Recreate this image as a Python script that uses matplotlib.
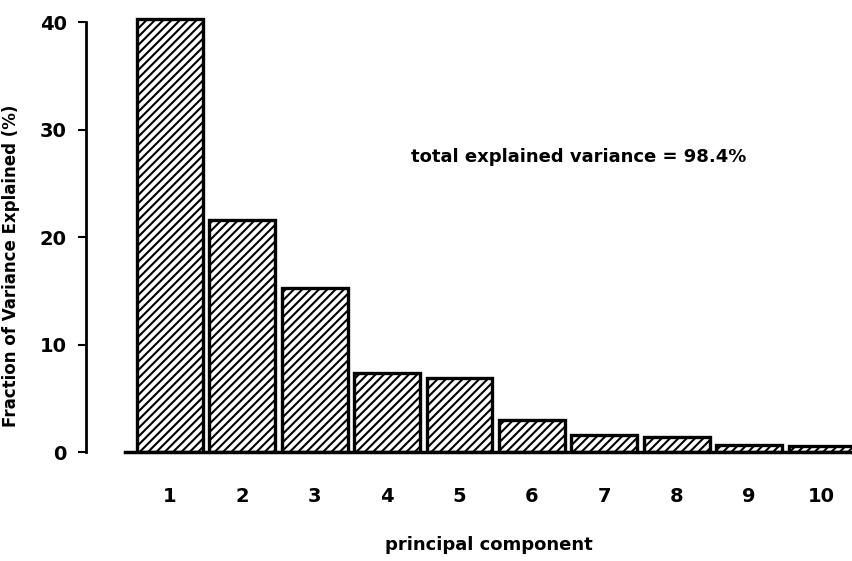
import matplotlib.pyplot as plt
import numpy as np

plt.rcParams['font.family'] = ['DejaVu Sans']
plt.rcParams['hatch.linewidth'] = 1.5

# variance explained by each principal component (%)
components = [1, 2, 3, 4, 5, 6, 7, 8, 9, 10]
variance = [40.3, 21.6, 15.3, 7.4, 6.9, 3.0, 1.6, 1.4, 0.65, 0.6]
total_variance = 98.4
y_ticks = [0, 10, 20, 30, 40]


fig = plt.figure(figsize=(8.52, 5.61), dpi=100)
ax = fig.add_axes([125 / 852, 0.194, 727 / 852, 0.778])

ax.bar(components, variance, width=0.91, facecolor='white', edgecolor='black',
       linewidth=2.4, hatch='////')

ax.set_xlim(0.38, 10.42)
ax.set_ylim(0, 40.6)

for side in ['top', 'right']:
    ax.spines[side].set_visible(False)
ax.spines['left'].set_position(('outward', 28))
ax.spines['left'].set_bounds(0, 40)
ax.spines['left'].set_linewidth(2)
ax.spines['bottom'].set_linewidth(2.5)

ax.set_yticks(y_ticks)
ax.set_yticklabels([str(t) for t in y_ticks], fontsize=14, fontweight='bold')
ax.tick_params(axis='y', length=6, width=1.5, pad=8)
ax.set_xticks(components)
ax.set_xticklabels([str(c) for c in components], fontsize=14, fontweight='bold')
ax.tick_params(axis='x', length=0, pad=25)

ax.set_xlabel('principal component', fontsize=13, fontweight='bold', labelpad=22)
ax.set_ylabel('Fraction of Variance Explained (%)', fontsize=12, fontweight='bold')
ax.yaxis.set_label_coords(-0.144, 0.426)

ax.text(6.64, 27.5, 'total explained variance = {:.1f}%'.format(total_variance),
        fontsize=13, fontweight='bold', ha='center', va='center')

fig.savefig('out.png', dpi=100)
